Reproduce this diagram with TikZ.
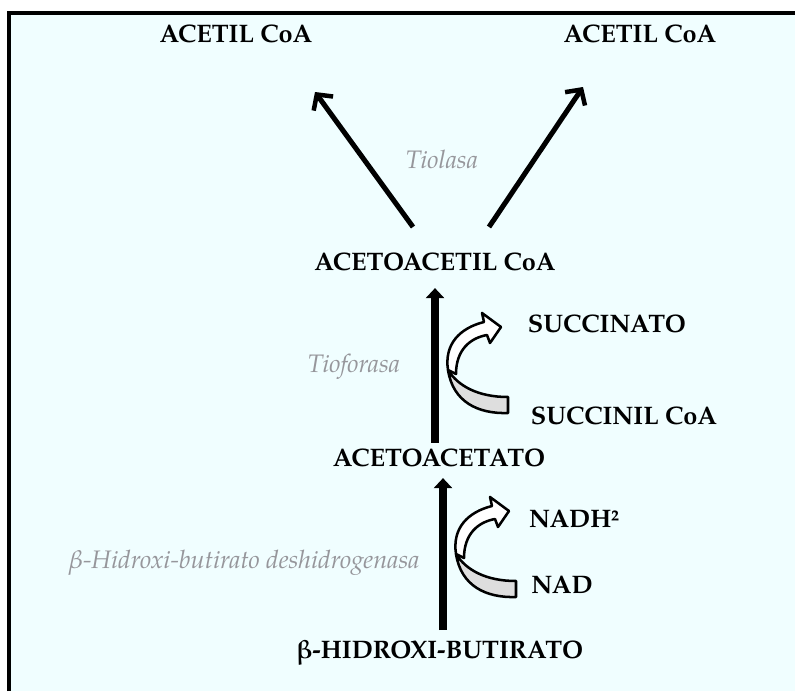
\documentclass[tikz,border=0pt]{standalone}
\usepackage{fontspec}
\setmainfont{TeX Gyre Pagella}
\usetikzlibrary{arrows.meta}

\definecolor{panel}{RGB}{240,254,255}
\definecolor{enzgray}{RGB}{150,150,155}
\definecolor{ribbon}{RGB}{222,222,222}

\begin{document}
\begin{tikzpicture}[
    x=0.025cm, y=-0.025cm,
    metab/.style={font=\fontsize{18}{21}\selectfont\bfseries, inner sep=0pt},
    enzyme/.style={font=\fontsize{18}{21}\selectfont\itshape, text=enzgray, inner sep=0pt},
    split/.style={line width=3.6pt, -{Straight Barb[length=0.28cm, width=0.6cm, line width=3.2pt]}},
    flow/.style={line width=5pt, -{Triangle[length=0.25cm, width=0.45cm]}},
    front/.style={fill=white, draw=black, line width=1.8pt, line join=round},
    back/.style={fill=ribbon, draw=black, line width=1.8pt, line join=round}
]

% panel with left and top rule
\useasboundingbox (0,0) rectangle (795,691);
\fill[panel] (9,13) rectangle (795,691);
\draw[line width=2.8pt] (9,691) -- (9,13) -- (795,13);

% metabolites
\node[metab] (acetilL) at (236,34) {ACETIL CoA};
\node[metab] (acetilR) at (640,34) {ACETIL CoA};
\node[metab] (acac) at (435,262) {ACETOACETIL CoA};
\node[metab] (succinato) at (607,324) {SUCCINATO};
\node[metab] (succinil) at (624,416) {SUCCINIL CoA};
\node[metab] (acetoacetato) at (439,458) {ACETOACETATO};
\node[metab] (nadh) at (574,519) {NADH²};
\node[metab] (nad) at (562,585) {NAD};
\node[metab] (hidroxi) at (440,653) {β-HIDROXI-BUTIRATO};

% enzymes
\node[enzyme] (tiolasa) at (442,159) {Tiolasa};
\node[enzyme] (tioforasa) at (354,367) {Tioforasa};
\node[enzyme] (deshid) at (244,563) {β-Hidroxi-butirato deshidrogenasa};

% thiolase split
\coordinate (splitL) at (413,227);
\coordinate (splitR) at (489,227);
\coordinate (tipL) at (315,92);
\coordinate (tipR) at (583,87);
\draw[split] (splitL) -- (tipL);
\draw[split] (splitR) -- (tipR);

% main pathway
\draw[flow, shorten <=0.15cm, shorten >=0.42cm] (acetoacetato.north -| acac.south) -- (acac.south);
\draw[flow, shorten <=0.25cm, shorten >=0.27cm] (hidroxi.north -| 443,0) -- (acetoacetato.south -| 443,0);

% cofactor ribbons
\foreach \dx/\dy in {0/0, 8/184} {
  \begin{scope}[shift={(\dx,\dy)}]
    \draw[back] (508,397) -- (508,413) .. controls (478,414) and (453,402) .. (448,370)
        .. controls (458,386) and (478,397) .. cycle;
    \draw[front] (448,370) .. controls (444,344) and (460,328) .. (484,322) -- (482,313)
        -- (501,327) -- (490,343) -- (487,335) .. controls (470,338) and (456,350) .. (456,374) -- cycle;
  \end{scope}
}

\end{tikzpicture}
\end{document}
